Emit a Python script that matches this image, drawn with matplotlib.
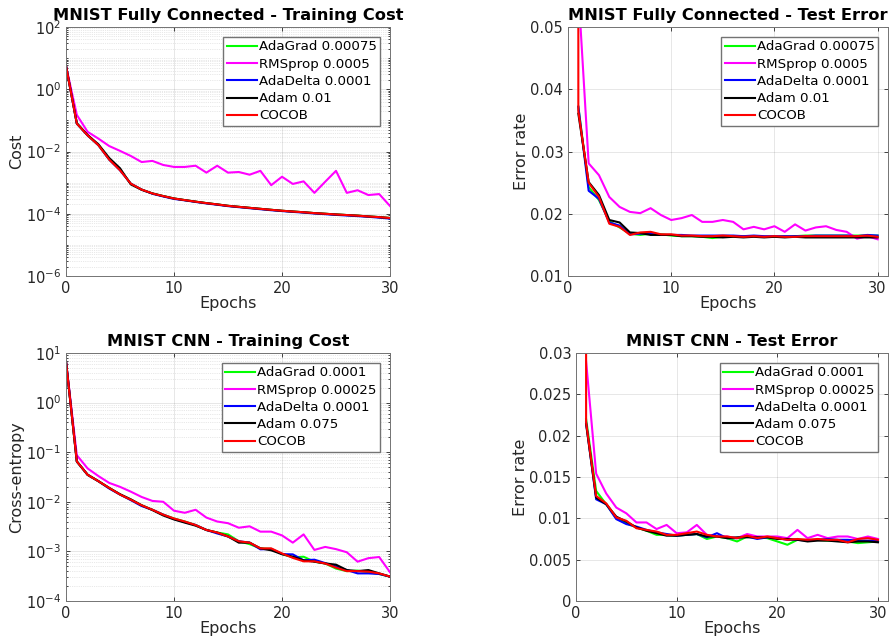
import matplotlib
matplotlib.use('Agg')
import matplotlib.pyplot as plt
import matplotlib.ticker as ticker
import numpy as np

plt.rcParams['font.family'] = ['DejaVu Sans']
plt.rcParams['mathtext.fontset'] = 'dejavusans'

names = ['AdaGrad', 'RMSprop', 'AdaDelta', 'Adam', 'COCOB']
colors = ['#00ff00', '#ff00ff', '#0000ff', '#000000', '#ff0000']

fc_rates = ['0.00075', '0.0005', '0.0001', '0.01', '']
cnn_rates = ['0.0001', '0.00025', '0.0001', '0.075', '']

epochs_cost = np.arange(0, 31)
epochs_err = np.arange(1, 31)
# COCOB test error has an extra initial (untrained) value logged at epoch 1
cocob_err_init = 0.9

# MNIST fully connected - training cost
fc_cost = {
    'AdaGrad': [5.6, 0.080, 0.033, 0.016, 0.0056, 0.0026, 0.00092, 0.0006, 0.00045, 0.00037, 0.00031,
                0.000275, 0.000245, 0.00022, 0.0002, 0.00018, 0.000167, 0.000155, 0.000144, 0.000134, 0.000125,
                0.000118, 0.000112, 0.000105, 0.0001, 0.000095, 0.000091, 0.000087, 0.000082, 0.000078, 0.000073],
    'RMSprop': [5.6, 0.15, 0.043, 0.026, 0.015, 0.0105, 0.0072, 0.0046, 0.005, 0.0037, 0.0032,
                0.0032, 0.0035, 0.0021, 0.0035, 0.0021, 0.0022, 0.0018, 0.0024, 0.00083, 0.00155,
                0.00091, 0.0011, 0.00047, 0.00107, 0.0024, 0.00047, 0.00057, 0.0004, 0.00043, 0.000178],
    'AdaDelta': [5.6, 0.079, 0.033, 0.016, 0.0055, 0.0025, 0.00093, 0.0006, 0.00044, 0.00036, 0.00030,
                 0.00027, 0.00024, 0.000215, 0.000195, 0.000176, 0.000163, 0.000151, 0.00014, 0.00013, 0.000122,
                 0.000115, 0.000109, 0.000102, 0.000097, 0.000092, 0.000088, 0.000084, 0.00008, 0.000075, 0.00007],
    'Adam': [5.6, 0.081, 0.034, 0.017, 0.0062, 0.0029, 0.00088, 0.00059, 0.00045, 0.00037, 0.00031,
             0.000275, 0.000245, 0.00022, 0.0002, 0.00018, 0.000167, 0.000155, 0.000144, 0.000134, 0.000125,
             0.000118, 0.000112, 0.000105, 0.0001, 0.000095, 0.000091, 0.000087, 0.000082, 0.000078, 0.000073],
    'COCOB': [5.6, 0.079, 0.033, 0.016, 0.0055, 0.0025, 0.00093, 0.0006, 0.00045, 0.00037, 0.00031,
              0.000275, 0.000245, 0.00022, 0.0002, 0.00018, 0.000167, 0.000155, 0.000144, 0.000134, 0.000125,
              0.000118, 0.000112, 0.000105, 0.0001, 0.000095, 0.000091, 0.000087, 0.000082, 0.000078, 0.000073],
}

# MNIST fully connected - test error
fc_err = {
    'AdaGrad': [0.0372, 0.0243, 0.0222, 0.0188, 0.0178, 0.0168, 0.0166, 0.0168, 0.0167, 0.0165, 0.0164, 0.0164,
                0.0163, 0.0161, 0.0163, 0.0163, 0.0164, 0.0164, 0.0163, 0.0163, 0.0164, 0.0164, 0.0165, 0.0165,
                0.0165, 0.0165, 0.0165, 0.0165, 0.0165, 0.0165],
    'RMSprop': [0.056, 0.0281, 0.0262, 0.0227, 0.0211, 0.0203, 0.0201, 0.0209, 0.0198, 0.019, 0.0193, 0.0198,
                0.0187, 0.0187, 0.019, 0.0187, 0.0175, 0.0179, 0.0175, 0.018, 0.0171, 0.0183, 0.0173, 0.0178,
                0.018, 0.0174, 0.0171, 0.016, 0.0164, 0.0159],
    'AdaDelta': [0.0372, 0.0237, 0.0224, 0.0186, 0.0181, 0.0167, 0.0168, 0.0169, 0.0166, 0.0166, 0.0166, 0.0165,
                 0.0165, 0.0165, 0.0165, 0.0165, 0.0164, 0.0165, 0.0164, 0.0164, 0.0164, 0.0164, 0.0164, 0.0165,
                 0.0165, 0.0165, 0.0165, 0.0164, 0.0166, 0.0165],
    'Adam': [0.0361, 0.0251, 0.023, 0.019, 0.0186, 0.017, 0.0169, 0.0166, 0.0166, 0.0166, 0.0164, 0.0164,
             0.0163, 0.0163, 0.0162, 0.0163, 0.0162, 0.0163, 0.0162, 0.0163, 0.0162, 0.0163, 0.0162, 0.0162,
             0.0162, 0.0162, 0.0162, 0.0162, 0.0162, 0.0162],
    'COCOB': [0.0365, 0.025, 0.0227, 0.0184, 0.0179, 0.0166, 0.017, 0.0171, 0.0167, 0.0167, 0.0165, 0.0165,
              0.0164, 0.0164, 0.0165, 0.0164, 0.0163, 0.0164, 0.0163, 0.0164, 0.0163, 0.0163, 0.0164, 0.0164,
              0.0164, 0.0164, 0.0164, 0.0164, 0.0165, 0.0163],
}

# MNIST CNN - training cost
cnn_cost = {
    'AdaGrad': [6.7, 0.065, 0.035, 0.026, 0.019, 0.014, 0.011, 0.0085, 0.0069, 0.0055, 0.0046,
                0.0040, 0.0034, 0.0027, 0.0024, 0.0022, 0.0016, 0.0014, 0.00115, 0.00112, 0.00088,
                0.00076, 0.00078, 0.00062, 0.00057, 0.00045, 0.0004, 0.00041, 0.00038, 0.00035, 0.00031],
    'RMSprop': [6.7, 0.087, 0.047, 0.033, 0.024, 0.020, 0.016, 0.0125, 0.0104, 0.0100, 0.0066,
                0.0060, 0.0069, 0.0048, 0.0040, 0.0037, 0.0030, 0.0032, 0.0025, 0.0025, 0.0021,
                0.0015, 0.0022, 0.00107, 0.00123, 0.00111, 0.00096, 0.00062, 0.00073, 0.00077, 0.00038],
    'AdaDelta': [6.7, 0.065, 0.035, 0.026, 0.0185, 0.014, 0.0108, 0.0082, 0.0069, 0.0055, 0.0045,
                 0.0039, 0.0034, 0.0027, 0.0023, 0.0020, 0.0016, 0.0015, 0.0011, 0.00112, 0.00088,
                 0.00087, 0.00066, 0.00068, 0.00058, 0.0005, 0.00042, 0.00036, 0.00036, 0.00035, 0.00031],
    'Adam': [6.7, 0.065, 0.035, 0.026, 0.019, 0.0142, 0.0112, 0.0085, 0.0068, 0.0053, 0.0044,
             0.0038, 0.0033, 0.0027, 0.0024, 0.0020, 0.0015, 0.0015, 0.00115, 0.00105, 0.00088,
             0.00078, 0.00066, 0.00062, 0.00057, 0.00054, 0.00042, 0.0004, 0.00042, 0.00036, 0.00031],
    'COCOB': [6.7, 0.065, 0.035, 0.026, 0.019, 0.014, 0.011, 0.0085, 0.0069, 0.0055, 0.0046,
              0.0040, 0.0034, 0.0027, 0.0024, 0.0020, 0.0016, 0.0015, 0.00115, 0.00115, 0.00091,
              0.00074, 0.00063, 0.00063, 0.00057, 0.00047, 0.0004, 0.0004, 0.00039, 0.00036, 0.00031],
}

# MNIST CNN - test error
cnn_err = {
    'AdaGrad': [0.022, 0.0133, 0.0117, 0.0100, 0.0094, 0.0089, 0.0085, 0.0080, 0.0080, 0.0079, 0.0080, 0.0081,
                0.0075, 0.0078, 0.0076, 0.0072, 0.0078, 0.0077, 0.0076, 0.0072, 0.0068, 0.0074, 0.0074, 0.0074,
                0.0073, 0.0073, 0.0072, 0.0070, 0.0071, 0.0072],
    'RMSprop': [0.029, 0.0154, 0.013, 0.0113, 0.0106, 0.0095, 0.0095, 0.0087, 0.0092, 0.0082, 0.0083, 0.0092,
                0.0080, 0.0078, 0.0078, 0.0076, 0.0081, 0.0078, 0.0078, 0.0078, 0.0076, 0.0086, 0.0076, 0.0080,
                0.0076, 0.0078, 0.0078, 0.0075, 0.0078, 0.0075],
    'AdaDelta': [0.0216, 0.0123, 0.0117, 0.0099, 0.0093, 0.0090, 0.0086, 0.0083, 0.0081, 0.0079, 0.0080, 0.0081,
                 0.0077, 0.0082, 0.0076, 0.0076, 0.0078, 0.0075, 0.0077, 0.0076, 0.0074, 0.0074, 0.0073, 0.0074,
                 0.0075, 0.0074, 0.0074, 0.0073, 0.0073, 0.0073],
    'Adam': [0.0214, 0.0125, 0.0117, 0.0102, 0.0096, 0.0089, 0.0085, 0.0082, 0.0079, 0.0079, 0.0080, 0.0081,
             0.0078, 0.0078, 0.0076, 0.0077, 0.0077, 0.0077, 0.0077, 0.0075, 0.0075, 0.0074, 0.0072, 0.0073,
             0.0073, 0.0072, 0.0071, 0.0072, 0.0072, 0.0071],
    'COCOB': [0.0216, 0.0127, 0.0118, 0.0101, 0.0097, 0.0088, 0.0086, 0.0084, 0.0080, 0.0080, 0.0082, 0.0084,
              0.0080, 0.0078, 0.0078, 0.0076, 0.0079, 0.0076, 0.0078, 0.0076, 0.0074, 0.0075, 0.0074, 0.0075,
              0.0074, 0.0074, 0.0071, 0.0075, 0.0076, 0.0074],
}

axcol = '0.15'

fig = plt.figure(figsize=(8.91, 6.44), dpi=100)
ax_tl = fig.add_axes([0.0741, 0.5714, 0.3636, 0.3866])
ax_tr = fig.add_axes([0.6375, 0.5714, 0.3591, 0.3866])
ax_bl = fig.add_axes([0.0741, 0.0668, 0.3636, 0.3851])
ax_br = fig.add_axes([0.6465, 0.0668, 0.3502, 0.3851])


def style(ax, title, ylabel, log):
    ax.set_title(title, fontsize=11.7, fontweight='bold', pad=5)
    ax.set_xlabel('Epochs', fontsize=11.5, color=axcol, labelpad=0)
    ax.set_ylabel(ylabel, fontsize=11.5, color=axcol, labelpad=1)
    ax.set_xticks([0, 10, 20, 30])
    ax.tick_params(which='both', direction='in', top=True, right=True, labelsize=10.5,
                   colors=axcol, length=3, width=0.6)
    ax.tick_params(which='minor', length=1.5)
    for s in ax.spines.values():
        s.set_color('0.45')
        s.set_linewidth(0.7)
    ax.grid(True, which='major', color='0.15', alpha=0.13, linewidth=0.6)
    if log:
        ax.grid(True, which='minor', color='0.15', alpha=0.2, linewidth=0.5, linestyle=':')
    ax.set_axisbelow(True)


def draw(ax, data, x, rates, cocob_first=None):
    for name, col, rate in zip(names, colors, rates):
        xs, ys = x, np.array(data[name])
        if name == 'COCOB' and cocob_first is not None:
            xs = np.r_[x[0], x]
            ys = np.r_[cocob_first, ys]
        label = (name + ' ' + rate).strip()
        ax.plot(xs, ys, color=col, linewidth=1.5, label=label)
    ax.legend(loc='upper right', fontsize=9.6, frameon=True, fancybox=False, framealpha=1,
              edgecolor='0.45', handlelength=2.25, handletextpad=0.15, labelspacing=0.32,
              borderpad=0.25, borderaxespad=0.75)


# top left
draw(ax_tl, fc_cost, epochs_cost, fc_rates)
ax_tl.set_yscale('log')
ax_tl.set_xlim(0, 30)
ax_tl.set_ylim(1e-6, 1e2)
ax_tl.set_yticks([1e-6, 1e-4, 1e-2, 1e0, 1e2])
ax_tl.yaxis.set_minor_locator(ticker.LogLocator(base=10, subs=np.arange(1, 10), numticks=100))
ax_tl.yaxis.set_minor_formatter(ticker.NullFormatter())
style(ax_tl, 'MNIST Fully Connected - Training Cost', 'Cost', True)

# top right
draw(ax_tr, fc_err, epochs_err, fc_rates, cocob_err_init)
ax_tr.set_xlim(0, 31)
ax_tr.set_ylim(0.01, 0.05)
ax_tr.set_yticks([0.01, 0.02, 0.03, 0.04, 0.05])
ax_tr.yaxis.set_major_formatter(ticker.FormatStrFormatter('%g'))
style(ax_tr, 'MNIST Fully Connected - Test Error', 'Error rate', False)

# bottom left
draw(ax_bl, cnn_cost, epochs_cost, cnn_rates)
ax_bl.set_yscale('log')
ax_bl.set_xlim(0, 30)
ax_bl.set_ylim(1e-4, 1e1)
ax_bl.set_yticks([1e-4, 1e-3, 1e-2, 1e-1, 1e0, 1e1])
ax_bl.yaxis.set_minor_locator(ticker.LogLocator(base=10, subs=np.arange(2, 10), numticks=100))
ax_bl.yaxis.set_minor_formatter(ticker.NullFormatter())
style(ax_bl, 'MNIST CNN - Training Cost', 'Cross-entropy', True)

# bottom right
draw(ax_br, cnn_err, epochs_err, cnn_rates, cocob_err_init)
ax_br.set_xlim(0, 31)
ax_br.set_ylim(0, 0.03)
ax_br.set_yticks([0, 0.005, 0.01, 0.015, 0.02, 0.025, 0.03])
ax_br.yaxis.set_major_formatter(ticker.FormatStrFormatter('%g'))
style(ax_br, 'MNIST CNN - Test Error', 'Error rate', False)

fig.savefig('out.png', dpi=100)
